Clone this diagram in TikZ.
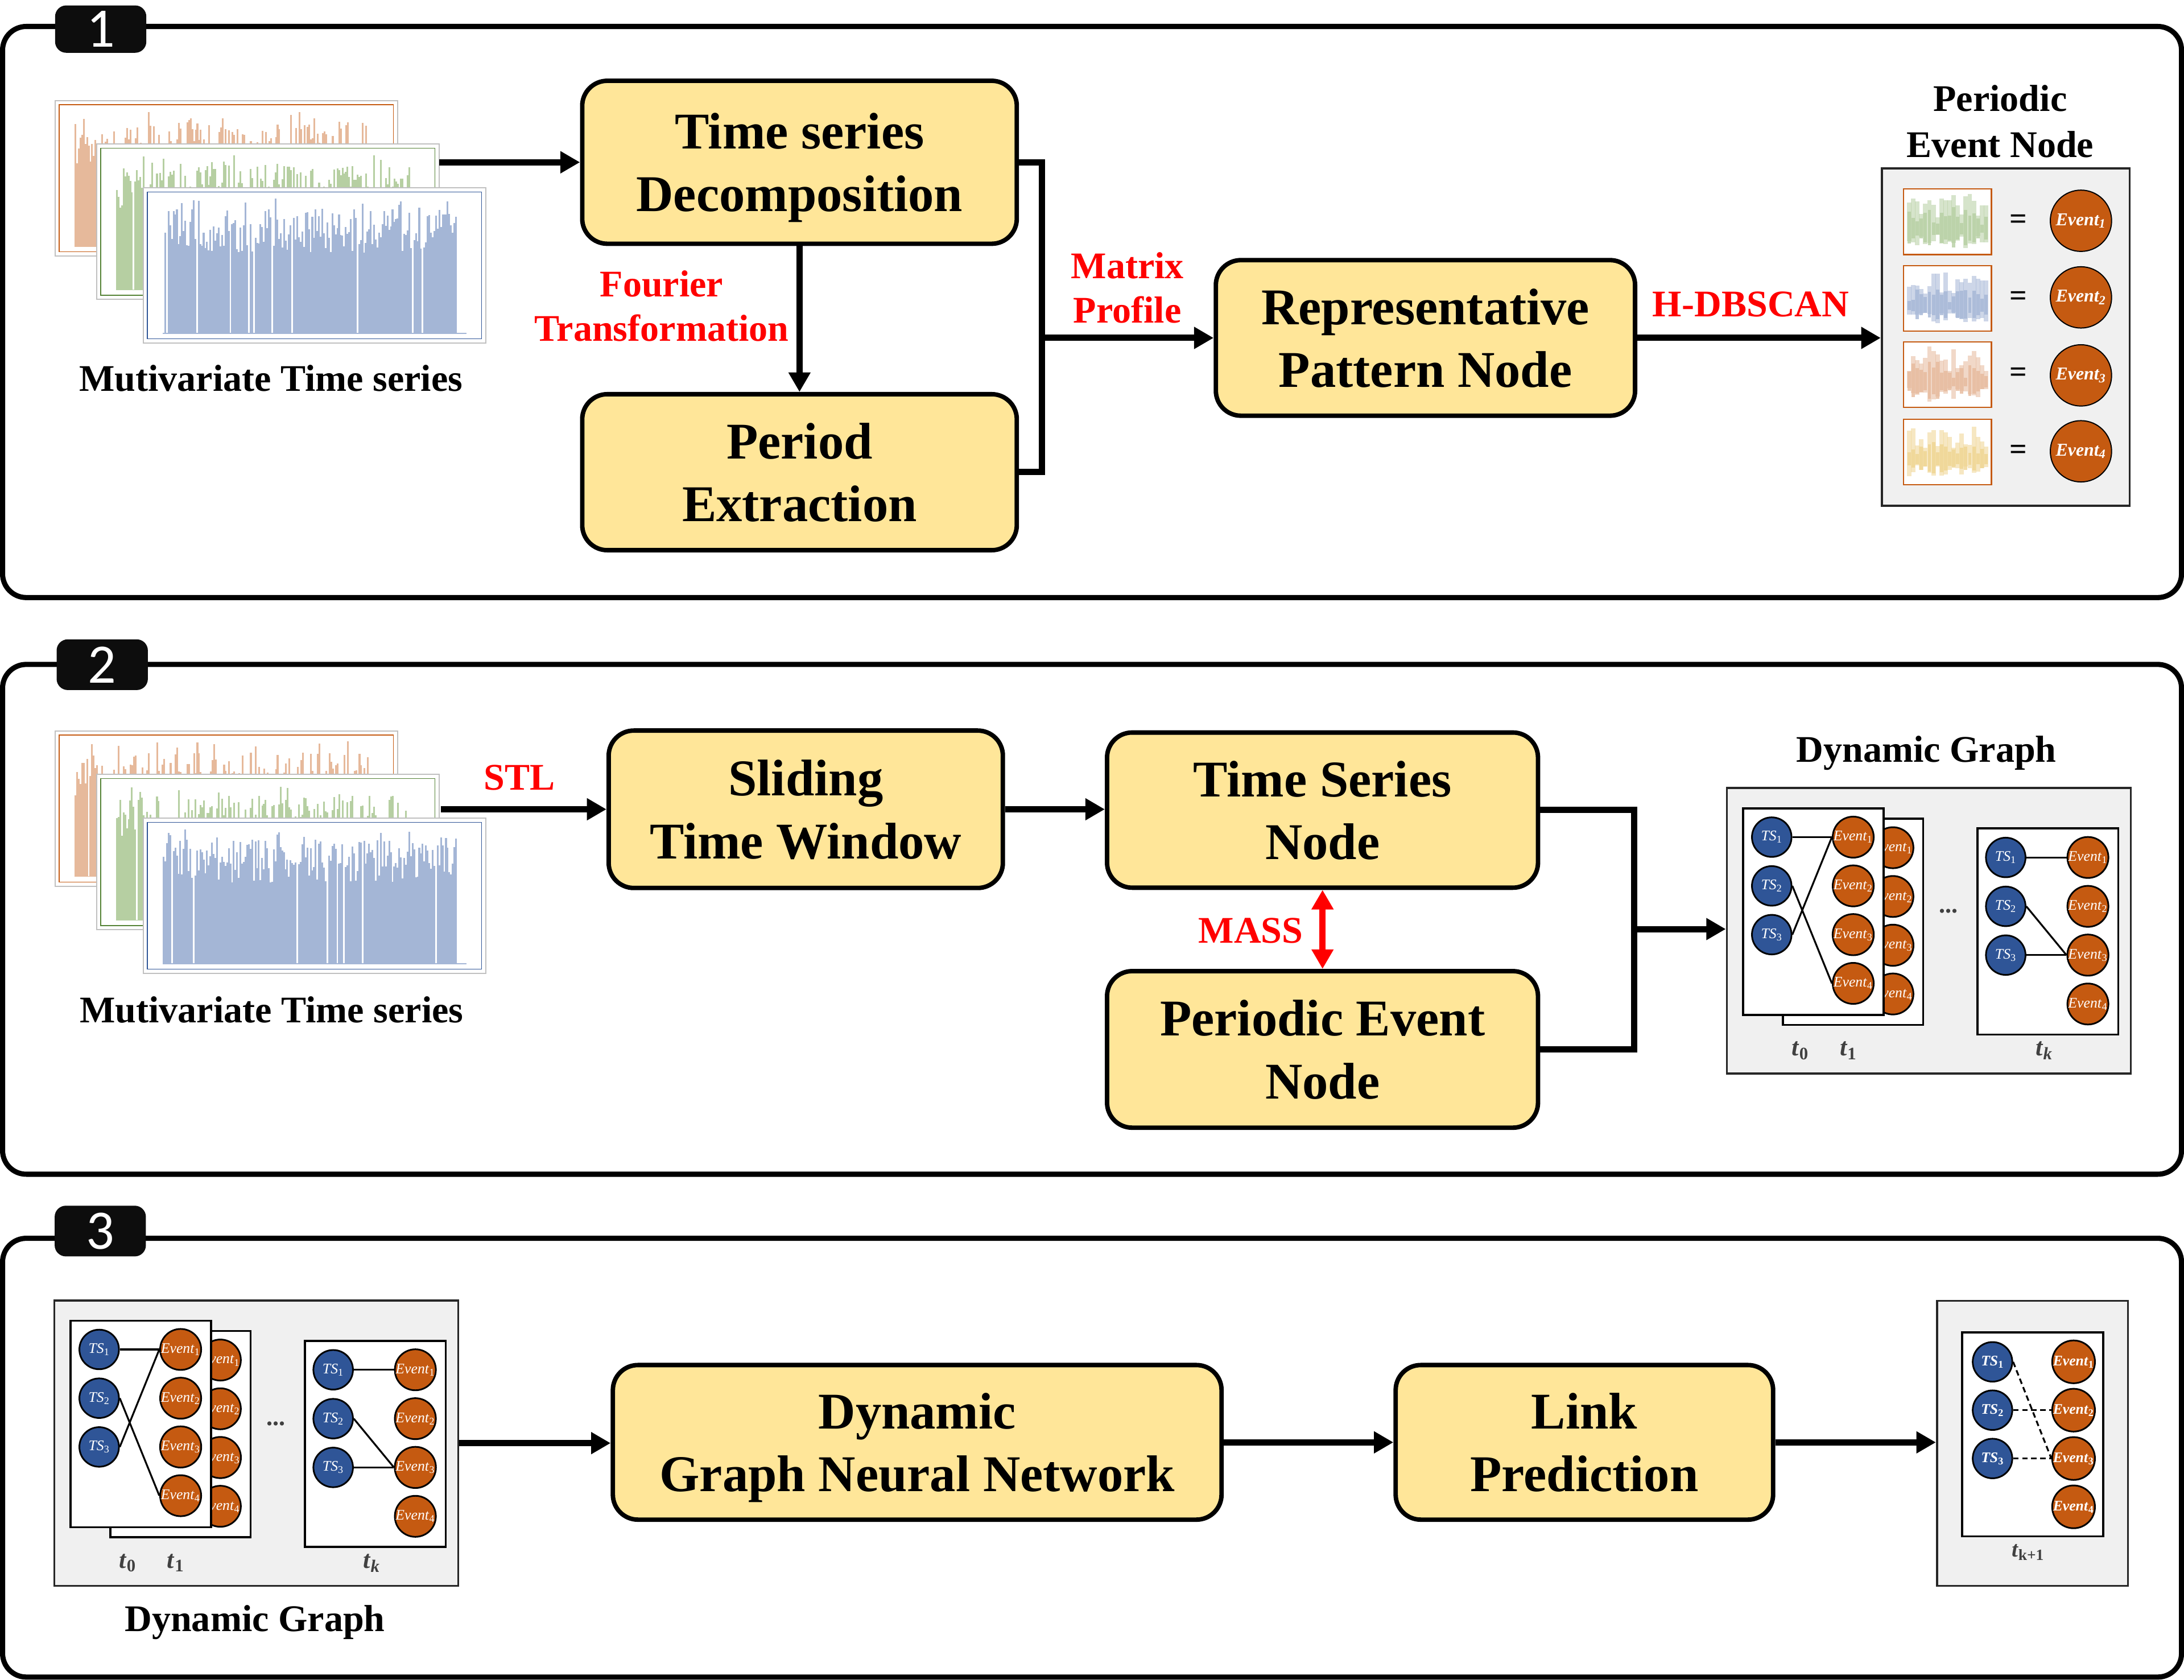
\documentclass[tikz,border=0pt]{standalone}
\usepackage{fontspec}
\setmainfont{Liberation Serif}
\newfontfamily\tagfont{Carlito}
\usetikzlibrary{arrows.meta}
\definecolor{boxyellow}{HTML}{FFE699}
\definecolor{tagblack}{HTML}{0D0D0D}
\definecolor{evorange}{HTML}{C55A11}
\definecolor{tsblue}{HTML}{2F5597}
\definecolor{panelgray}{HTML}{F0F0F0}
\definecolor{labgray}{HTML}{404040}
\definecolor{barorange}{HTML}{E6B99B}
\definecolor{bargreen}{HTML}{B6CFA2}
\definecolor{barblue}{HTML}{A4B6D6}
\definecolor{baryellow}{HTML}{EFD591}
\definecolor{frameorange}{HTML}{C55A11}
\definecolor{framegreen}{HTML}{548235}
\definecolor{frameblue}{HTML}{2F5597}
\definecolor{framegray}{HTML}{C0C0C0}
\newcommand\myev[1]{\textit{Event}\textsubscript{#1}}
\newcommand\myts[1]{\textit{TS}\textsubscript{#1}}
% bar chart: x y fill frame seed
\newcommand\tschart[5]{%
  \filldraw[fill=white, draw=framegray, line width=0.9pt] (#1,#2) rectangle ++(246,111.5);
  \draw[#4, line width=0.6pt] ({#1+3},{#2+3}) rectangle ({#1+243},{#2+108.5});
  \pgfmathsetseed{#5}%
  \foreach \bi in {0,...,175} {%
    \pgfmathsetmacro\brv{rnd}%
    \ifdim\brv pt>0.06pt
      \pgfmathsetmacro\bh{97*(0.6+0.32*rnd+0.08*(rnd>0.8))}%
      \fill[#3] ({#1+14+\bi*1.2},{#2+104.6}) rectangle ++(1.25,{-\bh});
    \fi
  }%
  \draw[#3, line width=0.6pt] ({#1+14},{#2+104.6}) -- ({#1+232},{#2+104.6});
}
\newcommand\tsstack[5]{%
  \tschart{#1}{#2}{barorange}{frameorange}{#3}%
  \tschart{#1+29.8}{#2+31.3}{bargreen}{framegreen}{#4}%
  \tschart{#1+63.3}{#2+62.6}{barblue}{frameblue}{#5}%
}
% thumbnail: x y color seed
\newcommand\thumb[4]{%
  \filldraw[fill=white, draw=evorange, line width=1pt] (#1,#2) rectangle ++(63.2,47);
  \pgfmathsetseed{#4}%
  \foreach \ti in {0,...,19} {%
    \pgfmathsetmacro\tua{8+18*rnd}%
    \pgfmathsetmacro\tda{0.5*\tua*(0.8+0.4*rnd)}%
    \fill[#3, opacity=0.55] ({#1+2.5+\ti*2.9},{#2+29-\tua}) rectangle ++(3.2,{\tua+\tda});
    \pgfmathsetmacro\tub{0.6*\tua*rnd+3}%
    \fill[#3, opacity=0.8] ({#1+2.9+\ti*2.9},{#2+29-\tub}) rectangle ++(2.4,{1.8*\tub});
  }%
}
% dynamic graph: x y prefix
\newcommand\dyngraph[3]{%
\begin{scope}[shift={(#1,#2)}]
  \node[graybox, anchor=north west, minimum width=290pt, minimum height=205pt] (#3box) at (0,0) {};
  \node[gframe, anchor=north west, minimum width=100.7pt, minimum height=148pt] (#3fb) at (40.3,22) {};
  \node[evc] (#3b1) at (120,43.6) {\myev{1}};
  \node[evc] (#3b2) at (120,78.6) {\myev{2}};
  \node[evc] (#3b3) at (120,113.6) {\myev{3}};
  \node[evc] (#3b4) at (120,148.6) {\myev{4}};
  \node[gframe, anchor=north west, minimum width=100.7pt, minimum height=148.2pt] (#3fa) at (11.8,14.7) {};
  \node[tsc] (#3s1) at (33,36) {\myts{1}};
  \node[tsc] (#3s2) at (33,71) {\myts{2}};
  \node[tsc] (#3s3) at (33,106) {\myts{3}};
  \node[evc] (#3e1) at (91.5,36) {\myev{1}};
  \node[evc] (#3e2) at (91.5,71) {\myev{2}};
  \node[evc] (#3e3) at (91.5,106) {\myev{3}};
  \node[evc] (#3e4) at (91.5,141) {\myev{4}};
  \draw[gedge] (#3s1.east) -- (#3e1.west);
  \draw[gedge] (#3s3.east) -- (#3e1.west);
  \draw[gedge] (#3s2.east) -- (#3e4.west);
  \node[gframe, anchor=north west, minimum width=101pt, minimum height=148pt] (#3fk) at (180,29) {};
  \node[tsc] (#3k1) at (201,50.6) {\myts{1}};
  \node[tsc] (#3k2) at (201,85.7) {\myts{2}};
  \node[tsc] (#3k3) at (201,120.7) {\myts{3}};
  \node[evc] (#3m1) at (260,50.6) {\myev{1}};
  \node[evc] (#3m2) at (260,85.7) {\myev{2}};
  \node[evc] (#3m3) at (260,120.7) {\myev{3}};
  \node[evc] (#3m4) at (260,155.8) {\myev{4}};
  \draw[gedge] (#3k1.east) -- (#3m1.west);
  \draw[gedge] (#3k2.east) -- (#3m3.west);
  \draw[gedge] (#3k3.east) -- (#3m3.west);
  \node[tlab, anchor=base] (#3dots) at (160,90.5) {\textbf{...}};
  \node[tlab, anchor=base] (#3t0) at (53.5,193) {\textbf{\textit{t}}\textsubscript{\textbf{0}}};
  \node[tlab, anchor=base] (#3t1) at (88,193) {\textbf{\textit{t}}\textsubscript{\textbf{1}}};
  \node[tlab, anchor=base] (#3tk) at (228.6,193) {\textbf{\textit{t}}\textsubscript{\textbf{\textit{k}}}};
\end{scope}}

\begin{document}
\begin{tikzpicture}[x=1pt,y=-1pt,
  procbox/.style={draw, line width=3.2pt, fill=boxyellow, rounded corners=18pt, align=center, font=\bfseries\fontsize{37}{45}\selectfont, inner sep=0pt, text depth=0pt},
  conn/.style={line width=4.5pt, -{Triangle[length=14pt,width=15pt]}},
  redlab/.style={text=red, font=\bfseries\fontsize{27}{32}\selectfont, align=center, inner sep=0pt},
  blklab/.style={font=\bfseries\fontsize{27}{33}\selectfont, align=center, inner sep=0pt},
  tagbox/.style={fill=tagblack, rounded corners=8pt, minimum width=65.5pt, minimum height=34pt, text=white, font=\tagfont\fontsize{40}{40}\selectfont, inner sep=0pt},
  panel/.style={draw, line width=3.7pt, rounded corners=17pt},
  graybox/.style={draw=black!85, fill=panelgray, line width=1.5pt, inner sep=0pt},
  gframe/.style={draw, fill=white, line width=1.5pt, inner sep=0pt},
  tsc/.style={circle, draw, line width=1.2pt, fill=tsblue, minimum size=28.4pt, inner sep=0pt, text=white, font=\fontsize{10.5}{11}\selectfont},
  evc/.style={circle, draw, line width=1.2pt, fill=evorange, minimum size=28.4pt, inner sep=0pt, text=white, font=\fontsize{10.5}{11}\selectfont},
  gedge/.style={line width=1.3pt},
  pedge/.style={line width=1.3pt, dash pattern=on 4pt off 2.5pt},
  tlab/.style={text=labgray, font=\fontsize{18}{18}\selectfont, inner sep=0pt},
  bigev/.style={circle, draw, line width=0.8pt, fill=evorange, minimum size=44pt, inner sep=0pt, text=white, font=\bfseries\itshape\fontsize{13}{13}\selectfont},
  eqsign/.style={font=\bfseries\fontsize{22}{22}\selectfont, inner sep=0pt},
]
\useasboundingbox (0,0) rectangle (1568,1206);

% panels
\draw[panel] (1.85,19) rectangle (1566.2,429);
\draw[panel] (1.85,477) rectangle (1566.2,843);
\draw[panel] (1.85,889) rectangle (1566.2,1204);
\node[tagbox] (tag1) at (72.3,20.9) {1};
\node[tagbox, minimum height=36.4pt] (tag2) at (73.4,477.2) {2};
\node[tagbox, minimum height=36.4pt] (tag3) at (72,883.8) {3};

% ---------- panel 1 ----------
\tsstack{39.5}{72.2}{11}{12}{13}
\node[blklab, anchor=base] (mts1) at (194.5,281) {Mutivariate Time series};
\node[procbox, minimum width=312pt, minimum height=117pt] (decomp) at (574,116.5) {Time series\\Decomposition};
\node[procbox, minimum width=312pt, minimum height=112pt] (period) at (574,339) {Period\\Extraction};
\node[procbox, minimum width=301pt, minimum height=111.7pt] (rep) at (1023.4,242.6) {Representative\\Pattern Node};
\coordinate (s1out) at (315.3,116.5);
\draw[conn] (s1out) -- (decomp.west);
\draw[conn] (decomp.south) -- (period.north);
\node[redlab] (fourier) at (475,219.7) {Fourier\\Transformation};
\draw[line width=4.5pt] (decomp.east) -- ++(16.5,0) |- (period.east);
\coordinate (j1) at (746.5,242.6);
\draw[conn] (j1) -- (rep.west);
\node[redlab] (mp) at (809.4,206.6) {Matrix\\Profile};

\node[blklab] (pentitle) at (1436,87.2) {Periodic\\Event Node};
\node[graybox, minimum width=178pt, minimum height=242pt] (evbox) at (1440,242) {};
\draw[conn] (rep.east) -- (rep.east -| evbox.west);
\node[redlab, anchor=base] (hdb) at (1257,227.5) {H-DBSCAN};
\thumb{1366.6}{135.7}{bargreen}{21}
\thumb{1366.6}{190.7}{barblue}{22}
\thumb{1366.6}{245.5}{barorange}{23}
\thumb{1366.6}{301}{baryellow}{24}
\node[eqsign] (eq1) at (1449,159.2) {=};
\node[eqsign] (eq2) at (1449,214.2) {=};
\node[eqsign] (eq3) at (1449,269) {=};
\node[eqsign] (eq4) at (1449,324.5) {=};
\node[bigev] (pev1) at (1494,158.5) {Event\textsubscript{1}};
\node[bigev] (pev2) at (1494,213.5) {Event\textsubscript{2}};
\node[bigev] (pev3) at (1494,269.5) {Event\textsubscript{3}};
\node[bigev] (pev4) at (1494,324) {Event\textsubscript{4}};

% ---------- panel 2 ----------
\tsstack{39.5}{524.7}{31}{32}{33}
\node[blklab, anchor=base] (mts2) at (195,734) {Mutivariate Time series};
\node[procbox, minimum width=283pt, minimum height=113pt] (sliding) at (578.5,581) {Sliding\\Time Window};
\node[procbox, minimum width=309.4pt, minimum height=111.4pt] (tsnode) at (949.5,581.6) {Time Series\\Node};
\node[procbox, minimum width=309.4pt, minimum height=112.4pt] (pen) at (949.5,753.4) {Periodic Event\\Node};
\coordinate (s2out) at (316.5,581);
\draw[conn] (s2out) -- (sliding.west);
\node[redlab, anchor=base] (stl) at (373,567) {STL};
\draw[conn] (sliding.east) -- (sliding.east -| tsnode.west);
\draw[red, line width=4.3pt, {Triangle[length=14pt,width=15pt]}-{Triangle[length=14pt,width=15pt]}] (tsnode.south) -- (pen.north);
\node[redlab, anchor=base] (mass) at (898,677) {MASS};
\draw[line width=4.5pt] (tsnode.east) -- ++(67.4,0) |- (pen.east);
\coordinate (j2) at (1171.6,667);
\dyngraph{1239}{565}{dga}
\draw[conn] (j2) -- (j2 -| dgabox.west);
\node[blklab, anchor=base] (dgt2) at (1383,547) {Dynamic Graph};

% ---------- panel 3 ----------
\dyngraph{38.2}{932.8}{dgb}
\node[blklab, anchor=base] (dgt3) at (183,1171) {Dynamic Graph};
\node[procbox, minimum width=437pt, minimum height=111pt] (dgnn) at (658.5,1035.5) {Dynamic\\Graph Neural Network};
\node[procbox, minimum width=271pt, minimum height=111pt] (link) at (1137.5,1035.5) {Link\\Prediction};
\draw[conn] (dgbbox.east) -- (dgbbox.east -| dgnn.west);
\draw[conn] (dgnn.east) -- (link.west);
\node[graybox, minimum width=137.2pt, minimum height=204.5pt] (predbox) at (1459.2,1036.2) {};
\draw[conn] (link.east) -- (link.east -| predbox.west);
\node[gframe, minimum width=101.4pt, minimum height=146.4pt] (predframe) at (1459.3,1029.8) {};
\node[tsc, font=\bfseries\fontsize{10.5}{11}\selectfont] (ps1) at (1430.5,977.7) {\myts{1}};
\node[tsc, font=\bfseries\fontsize{10.5}{11}\selectfont] (ps2) at (1430.5,1012.4) {\myts{2}};
\node[tsc, font=\bfseries\fontsize{10.5}{11}\selectfont] (ps3) at (1430.5,1047.1) {\myts{3}};
\node[evc, font=\bfseries\fontsize{10.5}{11}\selectfont] (pe1) at (1488.7,977.7) {\myev{1}};
\node[evc, font=\bfseries\fontsize{10.5}{11}\selectfont] (pe2) at (1488.7,1012.4) {\myev{2}};
\node[evc, font=\bfseries\fontsize{10.5}{11}\selectfont] (pe3) at (1488.7,1047.1) {\myev{3}};
\node[evc, font=\bfseries\fontsize{10.5}{11}\selectfont] (pe4) at (1488.7,1081.8) {\myev{4}};
\draw[pedge] (ps1.east) -- (pe3.west);
\draw[pedge] (ps2.east) -- (pe2.west);
\draw[pedge] (ps3.east) -- (pe3.west);
\node[tlab, anchor=base, font=\fontsize{16}{16}\selectfont] (tkp1) at (1456,1117.5) {\textbf{\textit{t}}\textsubscript{\textbf{k+1}}};
\end{tikzpicture}
\end{document}
